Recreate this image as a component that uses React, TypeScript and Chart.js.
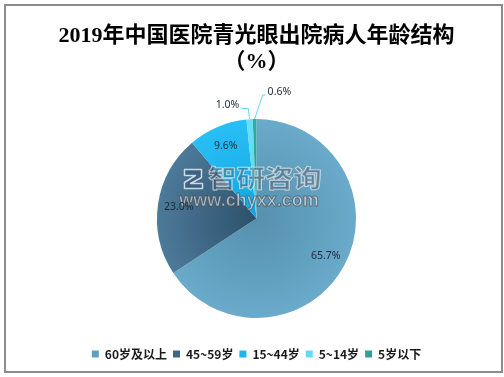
import React, { useEffect, useRef } from 'react';
import { Chart, registerables } from 'chart.js';

Chart.register(...registerables);

const TITLE_LINES = ['2019年中国医院青光眼出院病人年龄结构', '（%）'];
const categories = ['60岁及以上', '45~59岁', '15~44岁', '5~14岁', '5岁以下'];
const shares = [65.7, 23.0, 9.6, 1.0, 0.6];
const swatchColors = ['#5fa0c0', '#3d6886', '#1db5f0', '#5edcf8', '#2ea39c'];
const innerColors = ['#5590ae', '#2c506b', '#12a6e0', '#55d5f4', '#23948e'];
const outerColors = ['#6aaaca', '#4d7a99', '#28bef6', '#68e0fa', '#35aba4'];
const WATERMARK_NAME = '智研咨询';
const WATERMARK_URL = 'www.chyxx.com';

// leader-line styling for the small slices (index -> offsets)
const leaders: Record<number, { dx: number; dy: number; run: number; color: string }> = {
  3: { dx: -1.3, dy: -10.8, run: -7, color: '#5fd8f5' },
  4: { dx: 8, dy: -24, run: 3, color: '#5fd8f5' },
};

function drawWatermark(ctx: CanvasRenderingContext2D, cx: number, cy: number) {
  ctx.save();
  ctx.lineJoin = 'round';
  // icon
  const ix = cx - 74, iy = cy - 51, s = 22;
  ctx.strokeStyle = 'rgba(255,255,255,0.75)';
  ctx.lineWidth = 1.5;
  ctx.fillStyle = 'rgba(50,80,120,0.45)';
  ctx.beginPath();
  ctx.moveTo(ix + 2, iy + 2);
  ctx.lineTo(ix + s - 3, iy + 2);
  ctx.lineTo(ix + s - 3, iy + 10);
  ctx.lineTo(ix + 8, iy + s - 6);
  ctx.lineTo(ix + s - 2, iy + s - 6);
  ctx.lineTo(ix + s - 2, iy + s - 1);
  ctx.lineTo(ix + 2, iy + s - 1);
  ctx.lineTo(ix + 2, iy + s - 7);
  ctx.lineTo(ix + s - 9, iy + 8);
  ctx.lineTo(ix + 2, iy + 8);
  ctx.closePath();
  ctx.fill();
  ctx.stroke();
  // name
  ctx.save();
  ctx.translate(cx + 8.5, cy - 41);
  ctx.scale(1.18, 1);
  ctx.font = 'bold 24px "Noto Sans CJK SC", sans-serif';
  ctx.textAlign = 'center';
  ctx.textBaseline = 'middle';
  ctx.fillStyle = 'rgba(70,85,100,0.4)';
  ctx.strokeStyle = 'rgba(255,255,255,0.7)';
  ctx.lineWidth = 1.2;
  ctx.strokeText(WATERMARK_NAME, 0, 0);
  ctx.fillText(WATERMARK_NAME, 0, 0);
  ctx.restore();
  // url
  ctx.font = 'bold 18px "Liberation Sans", Arial, sans-serif';
  ctx.textAlign = 'center';
  ctx.textBaseline = 'middle';
  ctx.fillStyle = 'rgba(230,236,240,0.65)';
  ctx.strokeStyle = 'rgba(70,75,80,0.65)';
  ctx.lineWidth = 1;
  ctx.fillText(WATERMARK_URL, cx - 7.5, cy - 17);
  ctx.strokeText(WATERMARK_URL, cx - 7.5, cy - 17);
  ctx.restore();
}

const sliceLabels = {
  id: 'sliceLabels',
  afterDatasetsDraw(chart: any) {
    const ctx: CanvasRenderingContext2D = chart.ctx;
    const meta = chart.getDatasetMeta(0);
    if (!meta.data.length) return;
    const c0 = meta.data[0].getProps(['x', 'y'], true);
    drawWatermark(ctx, c0.x, c0.y);
    meta.data.forEach((arc: any, i: number) => {
      const { x, y, startAngle, endAngle, outerRadius } = arc.getProps(
        ['x', 'y', 'startAngle', 'endAngle', 'outerRadius'],
        true
      );
      const mid = (startAngle + endAngle) / 2;
      const text = shares[i].toFixed(1) + '%';
      ctx.save();
      ctx.font = '10.5px "Noto Sans", sans-serif';
      ctx.fillStyle = '#1b2a38';
      ctx.textBaseline = 'middle';
      const lead = leaders[i];
      if (!lead) {
        const rr = outerRadius * 0.79;
        ctx.textAlign = 'center';
        ctx.fillText(text, x + Math.cos(mid) * rr, y + Math.sin(mid) * rr);
      } else {
        const sx = x + Math.cos(mid) * outerRadius;
        const sy = y + Math.sin(mid) * outerRadius;
        const ex = sx + lead.dx;
        const ey = sy + lead.dy;
        const hx = ex + lead.run;
        ctx.strokeStyle = lead.color;
        ctx.lineWidth = 1;
        ctx.beginPath();
        ctx.moveTo(sx, sy);
        ctx.lineTo(ex, ey);
        ctx.lineTo(hx, ey);
        ctx.stroke();
        ctx.textAlign = lead.run < 0 ? 'right' : 'left';
        ctx.fillText(text, hx + (lead.run < 0 ? -2 : 2), ey - 3);
      }
      ctx.restore();
    });
  },
  afterDraw(chart: any) {
    const ctx: CanvasRenderingContext2D = chart.ctx;
    ctx.save();
    ctx.strokeStyle = '#8c8c8c';
    ctx.lineWidth = 2;
    ctx.strokeRect(5, 5, 497, 367);
    ctx.restore();
  },
};

export default function App() {
  const ref = useRef<HTMLCanvasElement | null>(null);
  useEffect(() => {
    if (!ref.current) return;
    const chart = new Chart(ref.current, {
      type: 'pie',
      data: {
        labels: categories,
        datasets: [
          {
            data: shares,
            borderWidth: 0,
            backgroundColor: (context: any) => {
              const i = context.dataIndex;
              const chart = context.chart;
              const area = chart.chartArea;
              if (!area) return swatchColors[i];
              const cx = (area.left + area.right) / 2;
              const cy = (area.top + area.bottom) / 2;
              const r = Math.min(area.right - area.left, area.bottom - area.top) / 2;
              const g = chart.ctx.createRadialGradient(cx, cy, 0, cx, cy, r);
              g.addColorStop(0, innerColors[i]);
              g.addColorStop(1, outerColors[i]);
              return g;
            },
          },
        ],
      },
      options: {
        responsive: false,
        animation: false,
        layout: { padding: { top: 4, left: 9, right: 0, bottom: 7 } },
        plugins: {
          tooltip: { enabled: false },
          title: {
            display: true,
            text: TITLE_LINES,
            color: '#000',
            font: {
              family: '"Liberation Serif", "Noto Sans CJK SC", serif',
              size: 22,
              weight: 'bold',
              lineHeight: 1.15,
            },
            padding: { top: 20, bottom: 44.4 },
          },
          legend: {
            position: 'bottom',
            title: {
              display: true,
              text: ' ',
              font: { size: 10, lineHeight: 1 },
              padding: { top: 14, bottom: 0 },
            },
            labels: {
              boxWidth: 7,
              boxHeight: 7,
              padding: 6,
              color: '#1a1a1a',
              font: { size: 12, weight: 'bold', family: '"Noto Sans CJK SC", sans-serif' },
              generateLabels: (chart: any) =>
                (chart.data.labels as string[]).map((t, i) => ({
                  text: t,
                  fillStyle: swatchColors[i],
                  strokeStyle: swatchColors[i],
                  lineWidth: 0,
                  hidden: false,
                  index: i,
                  fontColor: '#1a1a1a',
                })),
            },
          },
        },
      },
      plugins: [sliceLabels],
    } as any);
    return () => chart.destroy();
  }, []);
  return (
    <div style={{ position: 'absolute', left: 0, top: 0, width: 504, height: 377, background: '#fff' }}>
      <canvas ref={ref} width={504} height={377} />
    </div>
  );
}
